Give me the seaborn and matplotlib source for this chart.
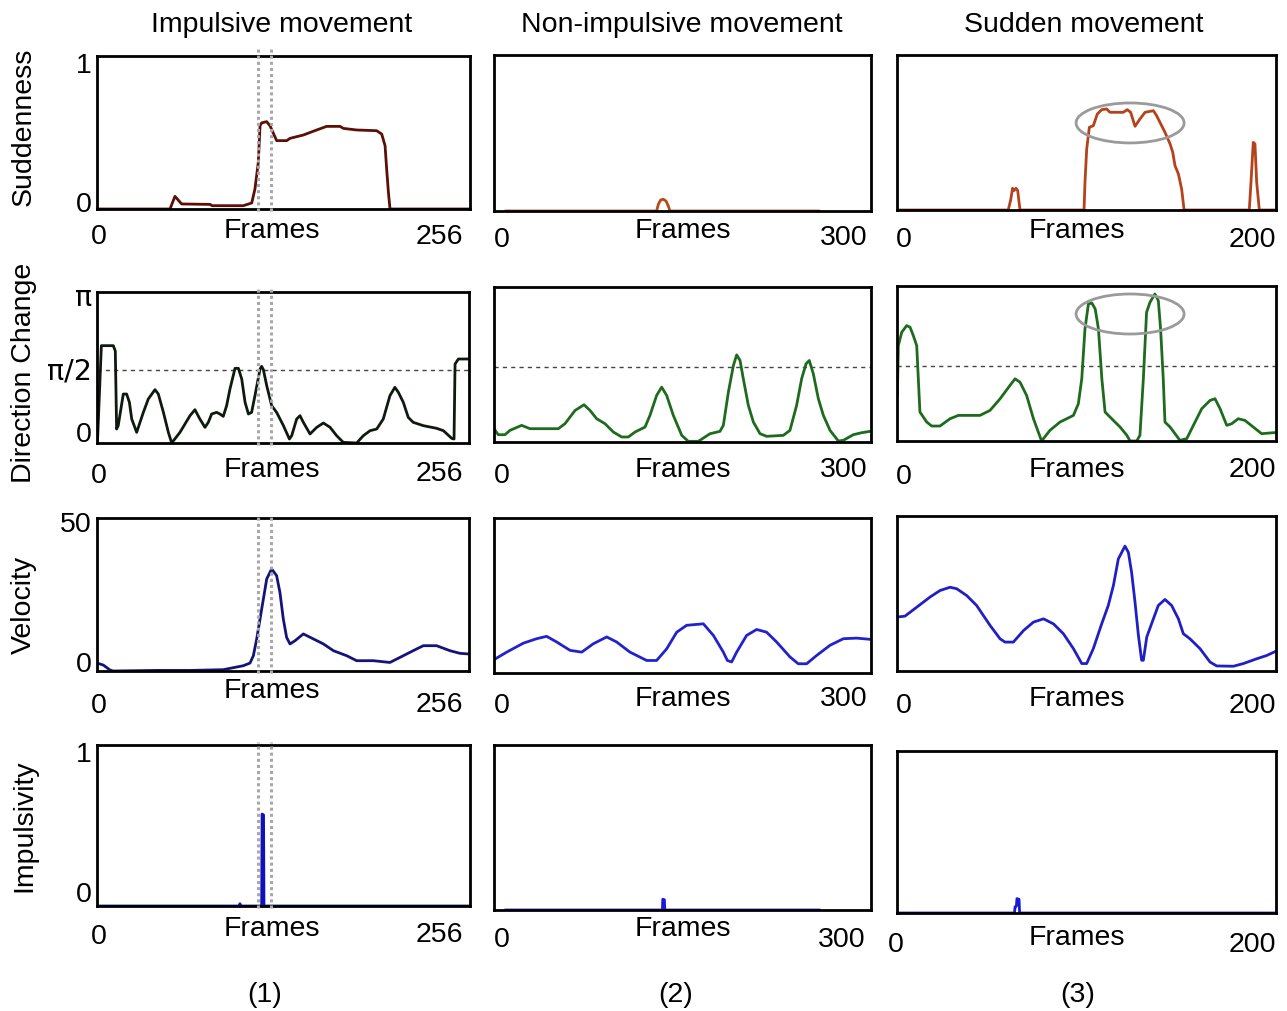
import numpy as np
import pandas as pd
import matplotlib
matplotlib.use("Agg")
import matplotlib.pyplot as plt
from matplotlib.patches import Ellipse
import seaborn as sns

# ---------------- data ----------------
col_titles = ["Impulsive movement", "Non-impulsive movement", "Sudden movement"]
row_titles = ["Suddenness", "Direction Change", "Velocity", "Impulsivity"]
col_tags = ["(1)", "(2)", "(3)"]
frame_max = [256, 300, 200]
frame_labels = ["256", "300", "200"]

# Suddenness
sud_imp_x = [0, 50.1, 53.5, 58.1, 77.6, 79.0, 100.4, 106.2, 108.4, 110.7, 111.9, 113.0, 116.4, 118.7,
             123.3, 130.2, 132.5, 141.6, 150.8, 157.6, 166.8, 169.1, 178.2, 191.9, 195.4, 197.7,
             198.8, 200.0, 201.1, 256]
sud_imp_y = [0, 0, 0.088, 0.035, 0.032, 0.023, 0.023, 0.042, 0.139, 0.324, 0.579, 0.598, 0.607, 0.579,
             0.475, 0.475, 0.491, 0.514, 0.549, 0.574, 0.574, 0.560, 0.549, 0.544, 0.521, 0.440,
             0.278, 0.116, 0, 0]
sud_non_x = [9, 129.4, 130.8, 132.6, 134.7, 136.9, 138.7, 140.0, 259]
sud_non_y = [0, 0, 0.046, 0.075, 0.080, 0.068, 0.034, 0, 0]
sud_sud_x = [0, 58.7, 60.0, 61.0, 61.7, 62.8, 63.7, 64.9, 98.7, 99.2, 100.1, 101.5, 103.6, 105.7, 108.0,
             110.6, 112.4, 119.4, 121.5, 123.3, 125.6, 128.2, 130.9, 135.3, 137.0, 139.2, 141.4,
             144.1, 145.5, 146.7, 148.5, 150.2, 151.5, 185.9, 186.8, 188.0, 188.9, 189.8, 191.2, 200]
sud_sud_y = [0, 0, 0.07, 0.149, 0.133, 0.149, 0.133, 0, 0, 0.19, 0.418, 0.567, 0.578, 0.658, 0.688,
             0.693, 0.670, 0.670, 0.688, 0.670, 0.574, 0.624, 0.670, 0.681, 0.647, 0.590, 0.533,
             0.453, 0.396, 0.304, 0.247, 0.144, 0, 0, 0.19, 0.464, 0.453, 0.19, 0, 0]

# Direction change (radians)
dir_imp_x = [0.3, 3.0, 11.2, 12.6, 13.5, 14.6, 18.1, 20.4, 22.3, 23.9, 27.3, 31.9, 35.3, 39.9, 42.2,
             45.7, 49.1, 51.4, 57.1, 64.0, 67.4, 70.8, 74.3, 76.6, 78.9, 82.3, 84.6, 86.9, 89.2,
             91.5, 94.98, 97.3, 99.6, 101.9, 104.2, 106.4, 108.7, 112.2, 113.3, 114.5, 116.8,
             120.2, 123.6, 128.3, 132.4, 134.0, 137.4, 139.7, 142.0, 146.6, 151.2, 155.8, 160.4,
             164.9, 169.5, 178.7, 183.3, 187.9, 192.5, 197.0, 201.6, 205.0, 207.4, 210.8, 214.2,
             217.6, 224.6, 233.7, 238.4, 244.1, 245.7, 246.4, 248.7, 255.6]
dir_imp_y = [0, 2.095, 2.095, 1.98, 0.301, 0.373, 1.054, 1.054, 0.875, 0.516, 0.23, 0.66, 0.947, 1.148,
             1.054, 0.66, 0.23, 0, 0.23, 0.588, 0.717, 0.516, 0.337, 0.445, 0.624, 0.660, 0.624,
             0.574, 0.803, 1.162, 1.607, 1.607, 1.377, 0.875, 0.624, 0.660, 1.019, 1.592, 1.650,
             1.578, 1.234, 0.803, 0.660, 0.373, 0.086, 0.158, 0.516, 0.588, 0.445, 0.194, 0.337,
             0.430, 0.337, 0.158, 0.014, 0, 0.158, 0.265, 0.301, 0.516, 1.019, 1.198, 1.090, 0.875,
             0.552, 0.445, 0.373, 0.316, 0.265, 0.100, 0.086, 1.700, 1.808, 1.808]
dir_non_x = [0, 3.4, 8.75, 12.7, 22.0, 28.6, 51.2, 56.5, 64.5, 71.6, 76.4, 81.7, 88.3, 95.0, 101.6,
             106.9, 112.2, 120.2, 124.1, 129.4, 133.4, 137.4, 142.7, 149.4, 154.6, 162.6, 171.9,
             179.8, 182.5, 186.5, 190.5, 193.1, 195.8, 198.4, 202.4, 206.4, 211.7, 217.0, 230.2,
             235.5, 240.8, 244.8, 248.3, 250.9, 254.1, 258.1, 262.1, 267.4, 274.0, 278.0, 285.9,
             292.6, 299.2]
dir_non_y = [0.279, 0.153, 0.153, 0.244, 0.349, 0.279, 0.279, 0.384, 0.662, 0.781, 0.662, 0.488, 0.384,
             0.209, 0.105, 0.105, 0.209, 0.314, 0.558, 0.976, 1.150, 0.976, 0.558, 0.139, 0.014,
             0.014, 0.174, 0.223, 0.349, 1.046, 1.604, 1.827, 1.709, 1.325, 0.767, 0.418, 0.174,
             0.119, 0.139, 0.244, 0.767, 1.325, 1.639, 1.709, 1.430, 0.907, 0.558, 0.244, 0.021,
             0.035, 0.153, 0.195, 0.223]
dir_sud_x = [0.2, 0.7, 2.5, 5.1, 6.9, 8.6, 10.4, 12.1, 15.7, 18.3, 22.7, 28.0, 32.4, 43.8, 49.1, 54.4,
             59.6, 62.3, 64.9, 68.4, 72.0, 76.3, 80.7, 86.0, 93.1, 95.7, 97.5, 99.2, 101.0, 102.8,
             104.6, 106.3, 108.1, 109.8, 113.3, 117.7, 121.3, 123.0, 126.5, 128.2, 130.0, 131.7,
             133.5, 136.1, 137.9, 139.1, 140.5, 141.4, 144.1, 149.3, 152.9, 156.4, 160.8, 165.2,
             167.8, 170.5, 174.0, 176.6, 180.1, 183.6, 188.0, 192.4, 198.6, 199.8]
dir_sud_y = [0.955, 2.0, 2.28, 2.42, 2.385, 2.21, 2.0, 0.607, 0.397, 0.314, 0.314, 0.467, 0.537, 0.537,
             0.642, 0.886, 1.165, 1.304, 1.234, 0.955, 0.467, 0, 0.223, 0.397, 0.537, 0.781, 1.304,
             2.35, 2.873, 2.894, 2.768, 2.35, 1.304, 0.607, 0.467, 0.293, 0.119, 0, 0, 0.119, 1.304,
             2.699, 2.908, 3.082, 2.943, 2.35, 1.304, 0.397, 0.293, 0.014, 0.049, 0.328, 0.676,
             0.851, 0.886, 0.676, 0.328, 0.362, 0.467, 0.432, 0.293, 0.153, 0.174, 0.174]

# Velocity
vel_imp_x = [0, 4.4, 8.9, 11.2, 41.0, 64.0, 86.9, 100.7, 105.3, 107.6, 109.9, 112.2, 114.5, 116.8,
             120.2, 123.6, 125.9, 128.2, 130.5, 132.8, 136.3, 142.0, 148.9, 155.8, 162.7, 171.8,
             178.7, 190.2, 201.6, 210.8, 220.0, 224.6, 233.7, 242.9, 249.8, 255.6]
vel_imp_y = [2.7, 2.0, 0.34, 0, 0.2, 0.2, 0.45, 1.8, 2.7, 5.2, 10.9, 17.7, 24.5, 31.3, 34.7, 32.4, 26.7,
             17.7, 11.4, 9.2, 10.3, 12.6, 10.9, 9.2, 6.9, 5.2, 3.5, 3.5, 2.9, 5.2, 7.5, 8.6, 8.6,
             6.9, 6.0, 5.8]
vel_non_x = [0.5, 10.1, 23.3, 33.9, 41.9, 49.9, 60.5, 69.8, 79.0, 89.7, 97.6, 108.2, 121.5, 129.4,
             137.4, 145.4, 153.3, 166.6, 174.6, 182.5, 185.7, 189.1, 193.1, 201.0, 209.0, 216.9,
             224.9, 235.5, 242.1, 248.8, 256.8, 267.4, 278.0, 288.6, 299.2]
vel_non_y = [4.6, 7.0, 10.0, 11.5, 12.3, 10.4, 7.6, 7.0, 9.8, 12.1, 10.4, 7.0, 4.2, 4.2, 8.1, 13.7,
             16.0, 16.5, 12.6, 7.0, 4.2, 3.7, 7.0, 12.6, 14.6, 13.7, 10.4, 5.4, 3.1, 3.1, 5.9, 9.3,
             11.5, 11.7, 11.3]
vel_sud_x = [0.2, 4.2, 10.4, 17.4, 22.7, 27.98, 31.5, 36.8, 42.0, 49.1, 54.4, 57.0, 61.4, 66.8, 72.0,
             77.3, 82.6, 87.8, 93.1, 97.5, 100.1, 103.6, 108.0, 111.5, 114.2, 116.8, 120.3, 122.1,
             123.8, 125.6, 127.4, 129.1, 130.0, 131.8, 135.3, 137.9, 141.4, 144.9, 148.5, 151.1,
             154.6, 159.9, 165.2, 168.7, 177.5, 182.8, 189.8, 195.1, 199.8]
vel_sud_y = [18.1, 18.4, 21.4, 24.8, 27.0, 28.1, 27.6, 25.3, 22.0, 15.3, 10.8, 9.7, 9.7, 13.6, 16.4,
             17.5, 15.8, 12.5, 7.5, 2.5, 2.5, 7.5, 15.8, 22.0, 28.7, 37.6, 41.9, 39.8, 33.1, 23.1,
             11.9, 3.6, 3.6, 11.4, 17.5, 22.0, 24.0, 22.0, 17.5, 12.5, 10.8, 7.5, 3.0, 1.7, 1.6,
             2.5, 4.1, 5.2, 6.6]

# Impulsivity
imp_imp_x = [0, 97.5, 98.1, 98.8, 113.0, 113.3, 114.3, 114.6, 256]
imp_imp_y = [0, 0, 0.015, 0, 0, 0.605, 0.600, 0, 0]
imp_non_x = [8.75, 134.0, 134.3, 135.6, 135.9, 259.4]
imp_non_y = [0, 0, 0.069, 0.066, 0, 0]
imp_sud_x = [0, 62.0, 62.3, 63.0, 63.3, 64.4, 64.7, 200]
imp_sud_y = [0, 0, 0.040, 0.045, 0.094, 0.090, 0, 0]

series = [
    [(sud_imp_x, sud_imp_y), (sud_non_x, sud_non_y), (sud_sud_x, sud_sud_y)],
    [(dir_imp_x, dir_imp_y), (dir_non_x, dir_non_y), (dir_sud_x, dir_sud_y)],
    [(vel_imp_x, vel_imp_y), (vel_non_x, vel_non_y), (vel_sud_x, vel_sud_y)],
    [(imp_imp_x, imp_imp_y), (imp_non_x, imp_non_y), (imp_sud_x, imp_sud_y)],
]
row_ymax = [1.063, 3.25, 52.0, 1.06]
marker_frames = [110.5, 119.5]   # dotted window in column 1

# ---------------- style ----------------
sns.set_style("white")
plt.rcParams['font.family'] = ['Liberation Sans', 'DejaVu Sans']
FS = 20.5

W, H = 1287, 1012
fig = plt.figure(figsize=(W / 100, H / 100), dpi=100)
fig.patch.set_facecolor("white")

boxes = [
    [(97, 57, 470, 210), (494, 56, 871, 212), (897, 56, 1276, 211)],
    [(97, 293, 469, 444), (494, 288, 871, 443), (897, 287, 1276, 442)],
    [(97, 519, 469, 672), (494, 519, 871, 674), (897, 517, 1276, 672)],
    [(97, 746, 470, 907), (494, 746, 871, 911), (897, 752, 1276, 914)],
]
colors = [
    ["#5c0f05", "#b84a1a", "#b5421a"],
    ["#0d1a0d", "#1e6b1e", "#1e6b1e"],
    ["#141478", "#2222cc", "#1f1fc4"],
    ["#1111bb", "#1a1add", "#1a1ad8"],
]


def ftxt(x, y, s, ha="center", va="center", **kw):
    fig.text(x / W, 1 - y / H, s, ha=ha, va=va, fontsize=FS, color="black", **kw)


frames_y = [[231, 231, 231], [470, 470, 470], [691, 699, 699], [929, 929, 938]]
zero_pos = [[(99, 237), (502, 240), (904, 240)], [(99, 476), (502, 476), (904, 477)],
            [(99, 706), (502, 706), (904, 706)], [(99, 937), (502, 940), (896, 945)]]
max_pos = [[(463, 237), (868, 238), (1276, 240)], [(463, 474), (868, 470), (1276, 470)],
           [(463, 705), (868, 699), (1276, 706)], [(463, 935), (866, 940), (1276, 945)]]
frames_x = [272, 683, 1077]

for r in range(4):
    for c in range(3):
        l, t, rr, b = boxes[r][c]
        ax = fig.add_axes([l / W, 1 - b / H, (rr - l) / W, (b - t) / H])
        xs, ys = series[r][c]
        df = pd.DataFrame({"frame": xs, "value": ys})
        sns.lineplot(data=df, x="frame", y="value", ax=ax, color=colors[r][c], lw=2.0,
                     estimator=None, sort=False)
        ax.set_xlim(0, frame_max[c])
        ax.set_ylim(0, row_ymax[r])
        ax.set_xticks([])
        ax.set_yticks([])
        ax.set_xlabel("")
        ax.set_ylabel("")
        for sp in ax.spines.values():
            sp.set_visible(True)
            sp.set_color("black")
            sp.set_linewidth(2.0)
        if r == 1:
            ax.axhline(np.pi / 2, color="#444444", lw=1.0, ls=(0, (3, 3)), zorder=1)
        if c == 0:
            top = 1.06 if r == 0 else 1.02
            for mf in marker_frames:
                ax.axvline(mf, ymin=-0.01, ymax=top, color="#a8a8a8", lw=2.2,
                           ls=(0, (1, 1)), clip_on=False, zorder=3)
        if c == 2 and r in (0, 1):
            cy = 0.597 if r == 0 else 2.663
            hh = 0.274 if r == 0 else 0.839
            ax.add_patch(Ellipse((123, cy), 57, hh, fill=False, ec="#9a9a9a", lw=2.0, zorder=4))
        # axis texts
        ftxt(frames_x[c], frames_y[r][c], "Frames")
        zx, zy = zero_pos[r][c]
        ftxt(zx, zy, "0")
        mx, my = max_pos[r][c]
        ftxt(mx, my, frame_labels[c], ha="right")

# column titles
for x, s in zip([282, 682, 1084], col_titles):
    ftxt(x, 25, s)
# bottom tags
for x, s in zip([265, 676, 1078], col_tags):
    ftxt(x, 995, s)
# row titles
for y, s in zip([127, 373, 605, 826], row_titles):
    ftxt(24, y, s, rotation=90)

# y value labels in first column
ylabels = [(66, "1"), (205, "0"), (525, "50"), (665, "0"), (755, "1"), (895, "0"), (435, "0")]
for y, s in ylabels:
    ftxt(92, y, s, ha="right")
ftxt(92, 298, "π", ha="right", family=["DejaVu Sans"])
ftxt(92, 371, "π/2", ha="right", family=["DejaVu Sans"])

fig.savefig("out.png", dpi=100, facecolor="white")
